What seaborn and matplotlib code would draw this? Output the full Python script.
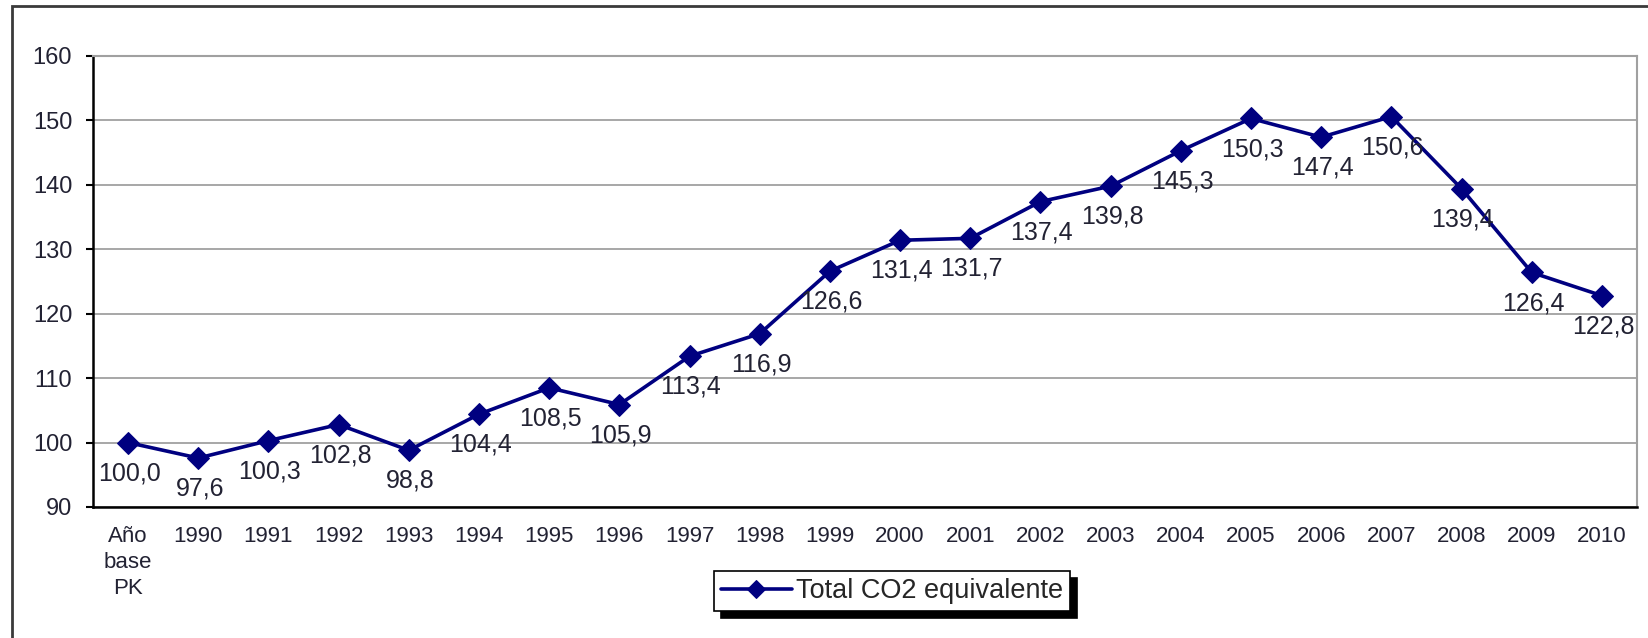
import matplotlib.pyplot as plt
import matplotlib.patches as mpatches
import pandas as pd
import seaborn as sns

categories = ["Año\nbase\nPK", "1990", "1991", "1992", "1993", "1994", "1995",
              "1996", "1997", "1998", "1999", "2000", "2001", "2002", "2003",
              "2004", "2005", "2006", "2007", "2008", "2009", "2010"]
values = [100.0, 97.6, 100.3, 102.8, 98.8, 104.4, 108.5, 105.9, 113.4, 116.9,
          126.6, 131.4, 131.7, 137.4, 139.8, 145.3, 150.3, 147.4, 150.6,
          139.4, 126.4, 122.8]
y_ticks = [90, 100, 110, 120, 130, 140, 150, 160]
series_name = "Total CO2 equivalente"

df = pd.DataFrame({"cat": categories, "val": values})

sns.set_style("white")
plt.rcParams["font.family"] = ["Liberation Sans", "DejaVu Sans"]

W, H = 1648, 638
fig = plt.figure(figsize=(W / 100, H / 100), dpi=100)
ax = fig.add_axes([93 / W, 1 - 507 / H, (1637 - 93) / W, (507 - 56) / H])

# outer frame
fig.patches.append(mpatches.Rectangle((12 / W, -0.1), 1.2, 1 - 6 / H + 0.1,
                                      transform=fig.transFigure, fill=False,
                                      edgecolor="#3a3a3a", linewidth=2))

navy = "#000080"
sns.lineplot(data=df, x="cat", y="val", ax=ax, color=navy, linewidth=2.6,
             marker="D", markersize=11.5, markeredgecolor=navy, label=series_name,
             sort=False)

for i, v in enumerate(values):
    ax.annotate(f"{v:.1f}".replace(".", ","), (i, v), xytext=(1, -22),
                textcoords="offset points", ha="center", va="center",
                fontsize=18, color="#222233")

ax.set_xlim(-0.5, len(categories) - 0.5)
ax.set_ylim(90, 160)
ax.set_yticks(y_ticks)
ax.set_yticklabels([str(t) for t in y_ticks], fontsize=17, color="#222233")
ax.set_xticks(range(len(categories)))
ax.set_xticklabels(categories, fontsize=16, color="#222233", va="top", linespacing=1.3)
ax.set_xticks([i - 0.5 for i in range(len(categories) + 1)], minor=True)
ax.tick_params(axis="x", which="major", length=0, pad=14)
ax.tick_params(axis="x", which="minor", length=5, width=1.5, color="black", direction="out")
ax.tick_params(axis="y", length=5, width=1.5, color="black", direction="out", left=True, pad=10)
ax.set_xlabel("")
ax.set_ylabel("")

ax.grid(axis="y", color="#a0a0a0", linewidth=1.3)
ax.set_axisbelow(True)
for side in ["left", "bottom"]:
    ax.spines[side].set_color("black")
    ax.spines[side].set_linewidth(1.8)
for side in ["top", "right"]:
    ax.spines[side].set_color("#a0a0a0")
    ax.spines[side].set_linewidth(1.5)

ax.get_legend().remove()
handles, labels = ax.get_legend_handles_labels()
leg = fig.legend(handles, labels, loc="center", bbox_to_anchor=(892 / W, 1 - 591 / H),
                 fontsize=19.5, frameon=True, fancybox=False,
                 shadow={"color": "black", "alpha": 1, "ox": 5, "oy": -5},
                 handlelength=2.6, handletextpad=0.15, borderpad=0.25, markerscale=0.8)
leg.get_frame().set_edgecolor("black")
leg.get_frame().set_linewidth(1.2)

fig.savefig("out.png", dpi=100)
